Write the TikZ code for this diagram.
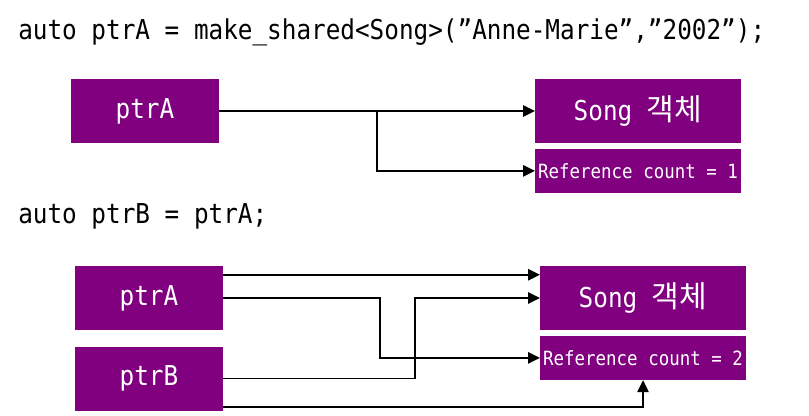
\documentclass[tikz,border=0pt]{standalone}
\usepackage{fontspec}
\newfontfamily\codefont[FakeStretch=0.89]{DejaVu Sans Mono}
\newfontfamily\kofont[Scale=1.1]{Noto Sans CJK KR}
\usepackage{tikz}
\usetikzlibrary{arrows.meta,positioning,calc}
\definecolor{songpurple}{RGB}{128,0,128}
\newcommand{\KoObj}{{\kofont 객체}}

\begin{document}
\begin{tikzpicture}[x=0.75pt, y=-0.75pt,
  code/.style={anchor=base west, inner sep=0pt,
               font=\codefont\fontsize{20.5}{24}\selectfont},
  ptrbox/.style={fill=songpurple, text=white, inner sep=0pt,
                 minimum width=111pt, minimum height=48pt,
                 font=\codefont\fontsize{20.5}{24}\selectfont},
  objbox/.style={ptrbox, minimum width=154pt},
  cntbox/.style={objbox, minimum height=33pt,
                 font=\codefont\fontsize{14.7}{18}\selectfont},
  arr/.style={-{Triangle[length=9pt,width=8.5pt]}, line width=1.4pt}]

\useasboundingbox (0,0) rectangle (809,415);

\node[code] (code1) at (18,39) {auto ptrA = make\_shared<Song>(”Anne-Marie”,”2002”);};
\node[ptrbox] (ptrA1) at (145,111) {ptrA};
\node[objbox] (song1) at (638,111) {Song \KoObj};
\node[cntbox, below=4pt of song1] (cnt1) {Reference count = 1};

\node[code] (code2) at (18,223) {auto ptrB = ptrA;};
\node[ptrbox] (ptrA2) at (149,298) {ptrA};
\node[ptrbox, below=12pt of ptrA2] (ptrB2) {ptrB};
\node[objbox] (song2) at (643,298) {Song \KoObj};
\node[cntbox, below=4pt of song2] (cnt2) {Reference count = 2};

\draw[arr] (ptrA1.east) -- (song1.west);
\draw[arr] (ptrA1.east) -- ++(158,0) |- (cnt1.west);
\draw[arr] ($(ptrA2.north east)+(0,9)$) -- ($(song2.north west)+(0,9)$);
\draw[arr] (ptrA2.east) -- ++(157,0) |- (cnt2.west);
\draw[arr] (ptrB2.east) -- ++(192,0) |- (song2.west);
\draw[arr] ($(ptrB2.south east)+(0,-4)$) -| (cnt2.south);
\end{tikzpicture}
\end{document}
